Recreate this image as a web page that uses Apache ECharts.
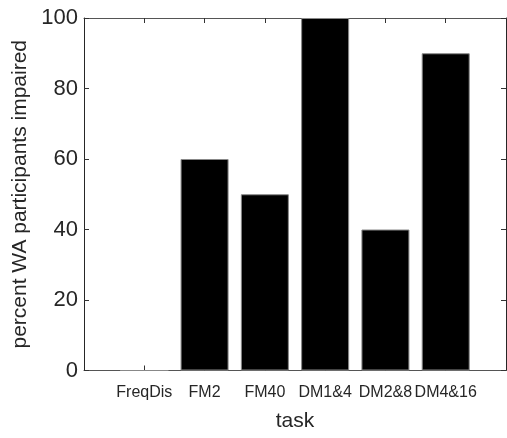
<!DOCTYPE html>
<html>
<head>
<meta charset="utf-8">
<script src="https://cdn.jsdelivr.net/npm/echarts@6/dist/echarts.min.js"></script>
<style>html,body{margin:0;padding:0;background:#fff;}#c{width:507px;height:438px;}</style>
</head>
<body>
<div id="c"></div>
<script>
var categories = ['', 'FreqDis', 'FM2', 'FM40', 'DM1&4', 'DM2&8', 'DM4&16', ''];
var values = [null, 0, 60, 50, 100, 40, 90, null];
var yTicks = [0, 20, 40, 60, 80, 100];

var font = '"Liberation Sans", Arial, Helvetica, sans-serif';
function inner(i) { return i > 0 && i < categories.length - 1; }
var chart = echarts.init(document.getElementById('c'));
chart.setOption({
  backgroundColor: '#fff',
  animation: false,
  grid: { left: 84, right: 1, top: 18, bottom: 67.5, containLabel: false },
  xAxis: [{
    type: 'category', data: categories, boundaryGap: false, position: 'bottom',
    name: 'task', nameLocation: 'middle', nameGap: 40,
    nameTextStyle: { fontFamily: font, fontSize: 21, color: '#262626' },
    axisLine: { lineStyle: { color: '#555', width: 1 } },
    axisTick: { show: true, inside: true, length: 5, lineStyle: { color: '#333' }, interval: inner },
    axisLabel: { fontFamily: font, fontSize: 16, color: '#262626', margin: 14, interval: inner },
    splitLine: { show: false }
  }, {
    type: 'category', data: categories, boundaryGap: false, position: 'top',
    axisLine: { show: true, onZero: false, lineStyle: { color: '#555', width: 1 } },
    axisTick: { show: true, inside: true, length: 5, lineStyle: { color: '#333', width: 1 }, interval: inner },
    axisLabel: { show: false, interval: inner }
  }],
  yAxis: [{
    type: 'value', min: 0, max: 100, interval: 20, position: 'left',
    name: 'percent WA participants impaired', nameLocation: 'middle', nameGap: 49,
    nameTextStyle: { fontFamily: font, fontSize: 21, color: '#262626' },
    axisLine: { show: true, lineStyle: { color: '#262626', width: 1 } },
    axisTick: { show: true, inside: true, length: 5, lineStyle: { color: '#333' } },
    axisLabel: { fontFamily: font, fontSize: 22, color: '#262626', margin: 6,
      formatter: function (v) { return yTicks.indexOf(v) >= 0 ? String(v) : ''; } },
    splitLine: { show: false }
  }, {
    type: 'value', min: 0, max: 100, interval: 20, position: 'right',
    axisLine: { show: true, lineStyle: { color: '#262626', width: 1 } },
    axisTick: { show: true, inside: true, length: 5, lineStyle: { color: '#333' } },
    axisLabel: { show: false },
    splitLine: { show: false }
  }],
  series: [{
    type: 'bar', xAxisIndex: 0, yAxisIndex: 0,
    data: values, barWidth: 48,
    itemStyle: { color: '#000', borderColor: '#888', borderWidth: 1 }
  }]
});
</script>
</body>
</html>
